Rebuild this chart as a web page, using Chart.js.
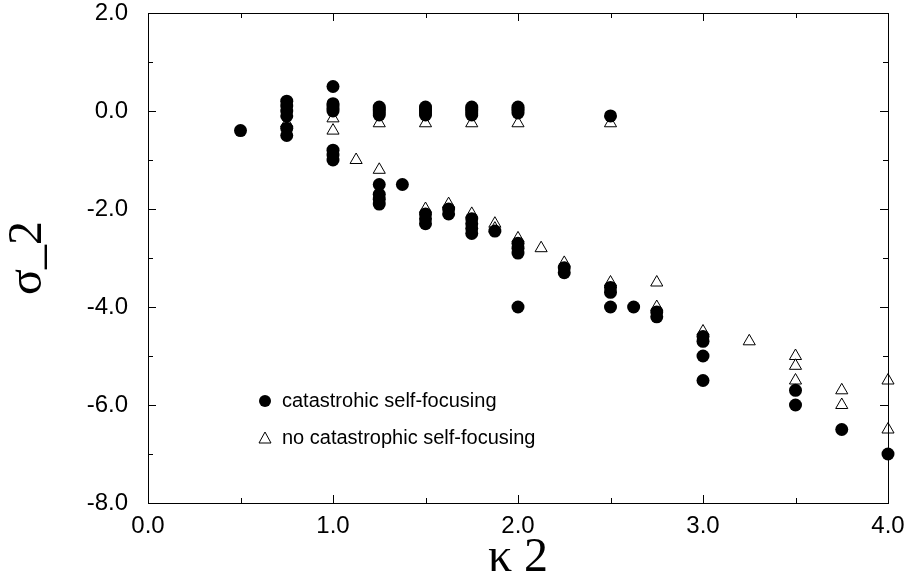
<!DOCTYPE html>
<html>
<head>
<meta charset="utf-8">
<script src="https://cdn.jsdelivr.net/npm/chart.js@4"></script>
<style>
  html, body { margin: 0; padding: 0; background: #fff; }
  #wrap { width: 910px; height: 583px; }
</style>
</head>
<body>
<div id="wrap"><canvas id="sigmaChart" width="910" height="583"></canvas></div>
<script>
// catastrophic self-focusing (filled circles)
const catX = [0.5,
  0.75, 0.75, 0.75, 0.75, 0.75, 0.75,
  1.0, 1.0, 1.0, 1.0, 1.0, 1.0, 1.0, 1.0,
  1.25, 1.25, 1.25, 1.25, 1.25, 1.25, 1.25, 1.25, 1.25,
  1.375,
  1.5, 1.5, 1.5, 1.5, 1.5, 1.5, 1.5, 1.5,
  1.625, 1.625,
  1.75, 1.75, 1.75, 1.75, 1.75, 1.75, 1.75, 1.75, 1.75,
  1.875,
  2.0, 2.0, 2.0, 2.0, 2.0, 2.0, 2.0, 2.0,
  2.25, 2.25,
  2.5, 2.5, 2.5, 2.5,
  2.625,
  2.75, 2.75,
  3.0, 3.0, 3.0, 3.0,
  3.5, 3.5,
  3.75,
  4.0];
const catY = [-0.4,
  0.2, 0.1, 0.0, -0.1, -0.35, -0.5,
  0.5, 0.15, 0.1, 0.05, 0.0, -0.8, -0.9, -1.0,
  0.08, 0.04, 0.0, -0.04, -0.08, -1.5, -1.7, -1.8, -1.9,
  -1.5,
  0.08, 0.04, 0.0, -0.04, -0.08, -2.1, -2.2, -2.3,
  -2.0, -2.1,
  0.08, 0.04, 0.0, -0.04, -0.08, -2.2, -2.3, -2.4, -2.5,
  -2.45,
  0.08, 0.04, 0.0, -0.04, -2.7, -2.8, -2.9, -4.0,
  -3.2, -3.3,
  -0.1, -3.6, -3.7, -4.0,
  -4.0,
  -4.1, -4.2,
  -4.6, -4.7, -5.0, -5.5,
  -5.7, -6.0,
  -6.5,
  -7.0];

// no catastrophic self-focusing (open triangles)
const noCatX = [0.75, 1.0, 1.0, 1.125, 1.25, 1.25, 1.5, 1.5, 1.625, 1.75, 1.75,
  1.875, 1.875, 2.0, 2.0, 2.125, 2.25, 2.5, 2.5, 2.75, 2.75, 3.0, 3.25,
  3.5, 3.5, 3.5, 3.75, 3.75, 4.0, 4.0];
const noCatY = [-0.25, -0.15, -0.4, -1.0, -0.25, -1.2, -0.25, -2.0, -1.9, -0.25, -2.1,
  -2.3, -2.4, -0.25, -2.6, -2.8, -3.1, -0.25, -3.5, -3.5, -4.0, -4.5, -4.7,
  -5.0, -5.2, -5.5, -5.7, -6.0, -5.5, -6.5];

const legendLabels = ["catastrohic self-focusing", "no catastrophic self-focusing"];
const xTitle = "\u03BA 2";
const yTitle = "\u03C3_2";

const toPoints = (xs, ys) => xs.map((x, i) => ({ x: x, y: ys[i] }));

// frame with inward ticks on all four sides, plus the inside legend
const framePlugin = {
  id: "frame",
  afterDraw(chart) {
    const { ctx, chartArea: a, scales } = chart;
    ctx.save();
    ctx.strokeStyle = "#000";
    ctx.lineWidth = 1;
    ctx.strokeRect(a.left + 0.5, a.top + 0.5, a.right - a.left, a.bottom - a.top);
    ctx.beginPath();
    for (let v = 0; v <= 4.0001; v += 0.5) {
      const px = Math.round(scales.x.getPixelForValue(v)) + 0.5;
      const len = Math.abs(v - Math.round(v)) < 1e-6 ? 8 : 5;
      ctx.moveTo(px, a.bottom); ctx.lineTo(px, a.bottom - len);
      ctx.moveTo(px, a.top); ctx.lineTo(px, a.top + len);
    }
    for (let v = -8; v <= 2.0001; v += 1) {
      const py = Math.round(scales.y.getPixelForValue(v)) + 0.5;
      const len = v % 2 === 0 ? 8 : 5;
      ctx.moveTo(a.left, py); ctx.lineTo(a.left + len, py);
      ctx.moveTo(a.right, py); ctx.lineTo(a.right - len, py);
    }
    ctx.stroke();

    // legend
    const lx = 265, ly1 = 401, ly2 = 438;
    ctx.fillStyle = "#000";
    ctx.beginPath();
    ctx.arc(lx, ly1, 6, 0, Math.PI * 2);
    ctx.fill();
    ctx.beginPath();
    ctx.moveTo(lx, ly2 - 6);
    ctx.lineTo(lx + 6, ly2 + 5);
    ctx.lineTo(lx - 6, ly2 + 5);
    ctx.closePath();
    ctx.stroke();
    ctx.font = "20px 'Liberation Sans', Arial, sans-serif";
    ctx.textBaseline = "middle";
    ctx.fillText(legendLabels[0], lx + 17, ly1);
    ctx.fillText(legendLabels[1], lx + 17, ly2);
    ctx.restore();
  }
};

document.addEventListener("DOMContentLoaded", function () {
  const ctx = document.getElementById("sigmaChart").getContext("2d");
  new Chart(ctx, {
    type: "scatter",
    data: {
      datasets: [{
        label: legendLabels[0],
        data: toPoints(catX, catY),
        pointStyle: "circle",
        pointRadius: 6.5,
        backgroundColor: "#000",
        borderColor: "#000",
        borderWidth: 0,
        clip: false,
        order: 0
      }, {
        label: legendLabels[1],
        data: toPoints(noCatX, noCatY),
        pointStyle: "triangle",
        pointRadius: 7,
        backgroundColor: "#fff",
        borderColor: "#000",
        borderWidth: 1,
        clip: false,
        order: 1
      }]
    },
    options: {
      responsive: false,
      animation: false,
      layout: { padding: { top: 13, right: 22, left: 0, bottom: 0 } },
      scales: {
        x: {
          type: "linear",
          min: 0, max: 4,
          border: { display: false },
          grid: { display: false, drawTicks: false },
          ticks: {
            stepSize: 1,
            color: "#000",
            padding: 9,
            font: { family: "'Liberation Sans', Arial, sans-serif", size: 24, lineHeight: 1.2 },
            callback: v => v.toFixed(1)
          },
          title: {
            display: true,
            text: xTitle,
            color: "#000",
            padding: { top: 0, bottom: -4 },
            font: { family: "'Liberation Serif', 'Times New Roman', serif", size: 48, lineHeight: 1.2 }
          },
          afterFit: s => { s.height = 80; s.paddingLeft = 0; s.paddingRight = 0; }
        },
        y: {
          type: "linear",
          min: -8, max: 2,
          border: { display: false },
          grid: { display: false, drawTicks: false },
          ticks: {
            stepSize: 2,
            color: "#000",
            padding: 20,
            font: { family: "'Liberation Sans', Arial, sans-serif", size: 24, lineHeight: 1 },
            callback: v => v.toFixed(1)
          },
          title: {
            display: true,
            text: yTitle,
            color: "#000",
            padding: { top: 0, bottom: 0 },
            font: { family: "'Liberation Serif', 'Times New Roman', serif", size: 48, lineHeight: 1.2 }
          },
          afterFit: s => { s.width = 148; s.paddingTop = 0; s.paddingBottom = 0; }
        }
      },
      plugins: {
        legend: { display: false },
        tooltip: { enabled: false }
      }
    },
    plugins: [framePlugin]
  });
});
</script>
</body>
</html>
